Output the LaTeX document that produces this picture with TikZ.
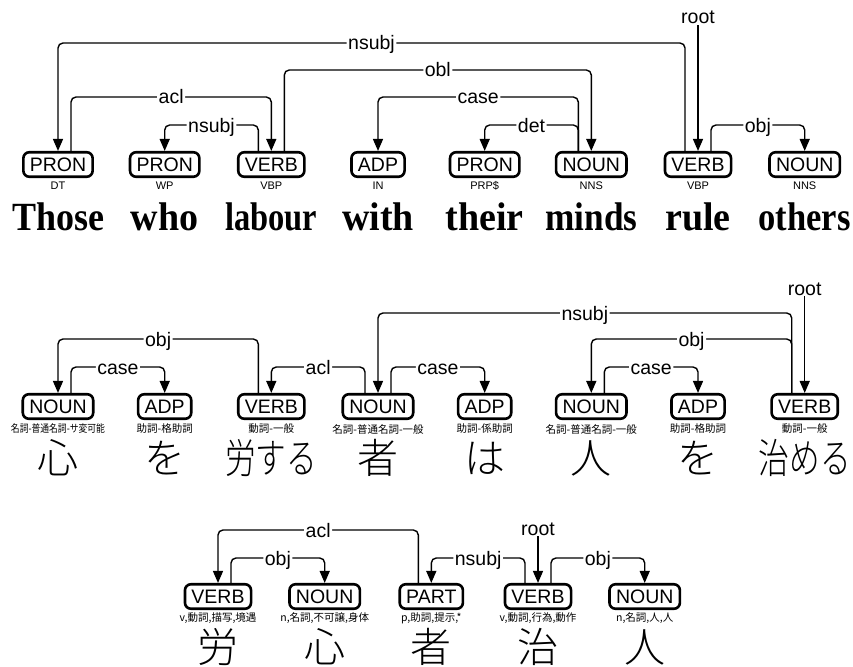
\documentclass[tikz,border=0pt]{standalone}
\usepackage{fontspec}
\usepackage{graphicx}
\setmainfont{Liberation Sans}
\newfontfamily\enword{Liberation Serif}
\newfontfamily\cjk{Noto Sans CJK JP}
\newfontfamily\cjklight{Noto Sans CJK JP Light}
\usetikzlibrary{arrows.meta}
\newcommand\fitto[2]{\sbox0{#2}\ifdim\wd0>#1\relax\resizebox{#1}{\height}{#2}\else\usebox0\fi}
\newcommand\enw[1]{\fitto{92pt}{\scalebox{0.95}[1]{\fontsize{40pt}{40pt}\enword\bfseries #1}}}
\newcommand\jpw[1]{\fitto{92pt}{\fontsize{41pt}{41pt}\cjklight #1}}
\newcommand\jpt[1]{\fitto{94pt}{\fontsize{10.5pt}{10.5pt}\cjk #1}}
\tikzset{
  posbox/.style={draw, line width=2.6pt, rounded corners=6pt, inner xsep=6.5pt, inner ysep=0pt,
    minimum height=24.5pt, font=\fontsize{19.5pt}{19.5pt}\selectfont, text height=14pt, text depth=0pt},
  arcline/.style={line width=1.4pt, rounded corners=5pt, -{Triangle[width=10pt,length=12pt]}},
  lbl/.style={fill=white, inner xsep=1.5pt, inner ysep=0pt, font=\fontsize{19.5pt}{19.5pt}\selectfont,
    text height=14pt, text depth=0pt},
  entag/.style={inner sep=0pt, font=\fontsize{11pt}{11pt}\selectfont},
  jptag/.style={inner sep=0pt},
  word/.style={inner sep=0pt, anchor=base},
}
\newcommand\deparc[5]{%
  \path (#1.north) ++(#2,0) coordinate (hs);
  \coordinate (lv) at (0,#4);
  \draw[arcline] (hs) -- (hs |- lv) -- node[lbl]{#5} (#3.north |- lv) -- (#3.north);}
\begin{document}
\begin{tikzpicture}[x=1pt,y=-1pt]
\useasboundingbox (0,0) rectangle (853,666);
% ---------- English ----------
\foreach \n/\x/\p/\t/\w in {e1/58/PRON/DT/Those, e2/164.7/PRON/WP/who, e3/271.3/VERB/VBP/labour,
  e4/378/ADP/IN/with, e5/484.7/PRON/PRP\$/their, e6/591.3/NOUN/NNS/minds, e7/698/VERB/VBP/rule,
  e8/804.7/NOUN/NNS/others}{
  \node[posbox] (\n) at (\x,164.5) {\p};
  \node[entag] (\n t) at (\x,186) {\t};
  \node[word] (\n w) at (\x,230) {\enw{\w}};
}
\deparc{e7}{-13}{e1}{43}{nsubj}
\deparc{e3}{13}{e6}{70}{obl}
\deparc{e1}{13}{e3}{97}{acl}
\deparc{e6}{-13}{e4}{97}{case}
\deparc{e3}{-13}{e2}{125}{nsubj}
\deparc{e6}{-13}{e5}{125}{det}
\deparc{e7}{13}{e8}{125}{obj}
\node[lbl] (er) at (698,17) {root};
\draw[arcline] ([yshift=-1pt]er.south) -- (e7.north);
% ---------- Japanese (UD) ----------
\foreach \n/\x/\p/\t/\w in {m1/58/NOUN/名詞-普通名詞-サ変可能/心, m2/164.7/ADP/助詞-格助詞/を,
  m3/271.3/VERB/動詞-一般/労する, m4/378/NOUN/名詞-普通名詞-一般/者, m5/484.7/ADP/助詞-係助詞/は,
  m6/591.3/NOUN/名詞-普通名詞-一般/人, m7/698/ADP/助詞-格助詞/を, m8/804.7/VERB/動詞-一般/治める}{
  \node[posbox] (\n) at (\x,406.5) {\p};
  \node[jptag] (\n t) at (\x,429) {\jpt{\t}};
  \node[word] (\n w) at (\x,473) {\jpw{\w}};
}
\deparc{m3}{-13}{m1}{339}{obj}
\deparc{m1}{13}{m2}{367}{case}
\deparc{m4}{-13}{m3}{367}{acl}
\deparc{m8}{-13}{m4}{313}{nsubj}
\deparc{m4}{13}{m5}{367}{case}
\deparc{m8}{-13}{m6}{339}{obj}
\deparc{m6}{13}{m7}{367}{case}
\node[lbl] (mr) at (804.7,288) {root};
\draw[arcline] ([yshift=-1pt]mr.south) -- (m8.north);
% ---------- Japanese (classical) ----------
\foreach \n/\x/\p/\t/\w in {b1/218/VERB/{v,動詞,描写,境遇}/労, b2/324.7/NOUN/{n,名詞,不可譲,身体}/心,
  b3/431.3/PART/{p,助詞,提示,*}/者, b4/538/VERB/{v,動詞,行為,動作}/治, b5/644.7/NOUN/{n,名詞,人,人}/人}{
  \node[posbox] (\n) at (\x,596.5) {\p};
  \node[jptag] (\n t) at (\x,618) {\jpt{\t}};
  \node[word] (\n w) at (\x,662) {\jpw{\w}};
}
\deparc{b3}{-13}{b1}{530}{acl}
\deparc{b1}{13}{b2}{558}{obj}
\deparc{b4}{-13}{b3}{558}{nsubj}
\deparc{b4}{13}{b5}{558}{obj}
\node[lbl] (br) at (538,528) {root};
\draw[arcline] ([yshift=-1pt]br.south) -- (b4.north);
\end{tikzpicture}
\end{document}
